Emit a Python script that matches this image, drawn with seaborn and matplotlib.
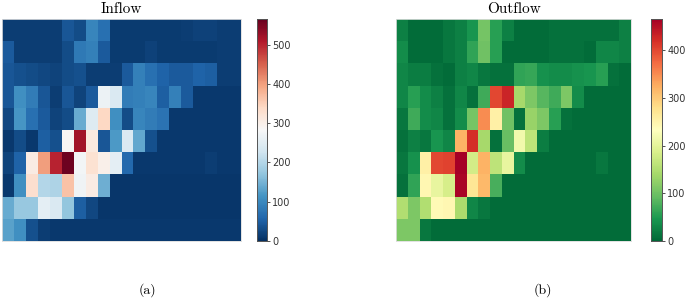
import numpy as np
import pandas as pd
import seaborn as sns
import matplotlib
matplotlib.use("Agg")
import matplotlib.pyplot as plt

inflow = [
    [15, 15, 15, 15, 15, 40, 30, 95, 70, 12, 12, 12, 12, 12, 12, 15, 18, 18, 15, 15],
    [45, 15, 15, 15, 15, 30, 80, 90, 45, 12, 12, 12, 18, 12, 12, 12, 12, 12, 15, 15],
    [40, 35, 30, 25, 20, 30, 35, 15, 15, 15, 45, 90, 70, 55, 45, 45, 55, 50, 15, 15],
    [40, 110, 85, 40, 15, 40, 20, 45, 265, 240, 85, 90, 95, 50, 90, 45, 10, 10, 10, 10],
    [25, 115, 70, 45, 20, 30, 140, 245, 340, 110, 30, 95, 85, 75, 10, 10, 10, 10, 10, 10],
    [10, 30, 10, 50, 35, 285, 520, 310, 40, 120, 240, 135, 35, 10, 10, 10, 10, 10, 10, 10],
    [20, 55, 305, 400, 500, 560, 275, 325, 300, 255, 60, 10, 10, 10, 10, 10, 10, 15, 10, 10],
    [10, 110, 330, 200, 195, 365, 270, 305, 145, 8, 8, 8, 8, 8, 8, 8, 8, 8, 8, 8],
    [140, 175, 175, 255, 240, 170, 50, 25, 8, 8, 8, 8, 8, 8, 8, 8, 8, 8, 8, 8],
    [130, 110, 35, 15, 10, 10, 10, 10, 10, 10, 10, 10, 10, 10, 10, 10, 10, 10, 10, 10],
]

outflow = [
    [25, 5, 5, 5, 15, 25, 45, 105, 55, 25, 5, 5, 5, 10, 10, 10, 10, 10, 10, 25],
    [35, 5, 5, 5, 15, 25, 60, 100, 55, 5, 5, 5, 5, 10, 10, 10, 5, 30, 30, 25],
    [30, 20, 20, 10, 5, 25, 30, 15, 10, 10, 60, 65, 40, 35, 35, 40, 45, 55, 10, 5],
    [30, 55, 35, 25, 10, 30, 10, 70, 400, 430, 140, 110, 85, 70, 110, 35, 5, 5, 5, 5],
    [15, 70, 35, 30, 10, 35, 105, 350, 255, 100, 10, 130, 110, 55, 10, 5, 5, 5, 5, 5],
    [10, 25, 15, 45, 30, 320, 420, 140, 10, 95, 215, 160, 20, 5, 5, 5, 5, 5, 5, 5],
    [15, 40, 255, 400, 405, 465, 180, 320, 160, 205, 35, 5, 5, 5, 5, 5, 5, 15, 5, 5],
    [10, 60, 245, 205, 185, 460, 270, 315, 75, 5, 5, 5, 5, 5, 5, 5, 5, 5, 5, 5],
    [150, 110, 150, 240, 245, 145, 30, 15, 5, 5, 5, 5, 5, 5, 5, 5, 5, 5, 5, 5],
    [110, 110, 15, 5, 5, 5, 5, 5, 5, 5, 5, 5, 5, 5, 5, 5, 5, 5, 5, 5],
]

titles = ["Inflow", "Outflow"]
sublabels = ["(a)", "(b)"]

W, H = 685, 299
fig = plt.figure(figsize=(W / 100, H / 100), dpi=100)


def box(x0, y0, x1, y1):
    return [x0 / W, 1 - y1 / H, (x1 - x0) / W, (y1 - y0) / H]


ax1 = fig.add_axes(box(2, 19, 241, 241))
cax1 = fig.add_axes(box(257, 19, 267, 241))
ax2 = fig.add_axes(box(396, 19, 631, 241))
cax2 = fig.add_axes(box(651, 19, 662, 241))

sns.heatmap(pd.DataFrame(inflow), ax=ax1, cbar_ax=cax1, cmap="RdBu_r",
            vmin=0, vmax=565, xticklabels=False, yticklabels=False)
sns.heatmap(pd.DataFrame(outflow), ax=ax2, cbar_ax=cax2, cmap="RdYlGn_r",
            vmin=0, vmax=465, xticklabels=False, yticklabels=False)

for ax, cax, t in [(ax1, cax1, titles[0]), (ax2, cax2, titles[1])]:
    ax.set_title(t, fontfamily="cmr10", fontsize=11, pad=4)
    ax.tick_params(left=False, bottom=False)
    for s in ax.spines.values():
        s.set_visible(True)
        s.set_color("#dddddd")
        s.set_linewidth(0.6)
    cax.tick_params(labelsize=7, length=2.5, width=0.6, pad=1.2,
                    colors="#333333")
    cax.set_frame_on(True)
    for s in cax.spines.values():
        s.set_visible(True)
        s.set_linewidth(0.6)
        s.set_color("#555555")

fig.text(147 / W, 1 - 290 / H, sublabels[0], fontfamily="cmr10", fontsize=10,
         ha="center", va="center")
fig.text(543 / W, 1 - 290 / H, sublabels[1], fontfamily="cmr10", fontsize=10,
         ha="center", va="center")

fig.savefig("out.png", dpi=100)
